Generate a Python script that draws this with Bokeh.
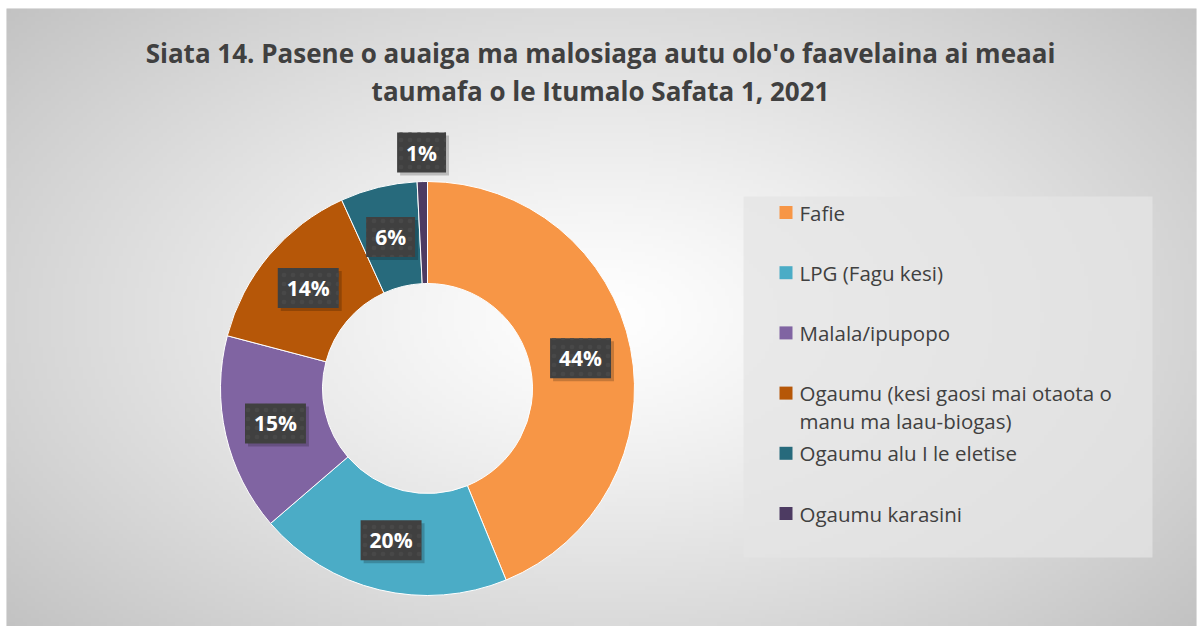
import numpy as np
from bokeh.plotting import figure
from bokeh.models import Range1d, ColumnDataSource
from bokeh.core.properties import value
from bokeh.embed import file_html
from bokeh.resources import INLINE

# ---------------- data ----------------
title_lines = ["Siata 14. Pasene o auaiga ma malosiaga autu olo'o faavelaina ai meaai",
               "taumafa o le Itumalo Safata 1, 2021"]
categories = ["Fafie", "LPG (Fagu kesi)", "Malala/ipupopo",
              "Ogaumu (kesi gaosi mai otaota o\nmanu ma laau-biogas)",
              "Ogaumu alu I le eletise", "Ogaumu karasini"]
percent = [43.8, 19.9, 15.4, 14.1, 6.0, 0.8]
colors = ["#F79646", "#4BACC6", "#8064A2", "#B65708", "#276A7C", "#4D3B62"]

# ---------------- layout ----------------
FW, FH = 1198, 626
BL, BT, BR = 6, 8, 2
W, H = FW - BL - BR, FH - BT
CX, CY = 421, 238
R_OUT, R_IN = 207, 105
FONT = "Open Sans"
TXT = "#404040"

p = figure(width=FW, height=FH, x_range=Range1d(0, W), y_range=Range1d(0, H),
           output_backend="svg", toolbar_location=None,
           min_border_left=BL, min_border_top=BT, min_border_right=BR, min_border_bottom=0,
           x_axis_location=None, y_axis_location=None)
p.grid.visible = False
p.outline_line_color = None
p.border_fill_color = "white"
p.background_fill_color = "#D0D0D0"

# background radial gradient
nx, ny = 298, 155
gx = (np.arange(nx) + 0.5) * W / nx
gy = (np.arange(ny) + 0.5) * H / ny
XX, YY = np.meshgrid(gx, gy)
gcx, gcy = 594, 310
d = np.sqrt(((XX - gcx) / (W * 0.55)) ** 2 + ((YY - gcy) / (H * 0.62)) ** 2)
g = np.clip(255 - 48 * d ** 1.2, 185, 255).astype(np.uint32)
img = (255 << 24) | (g << 16) | (g << 8) | g
p.image_rgba(image=[img.astype(np.uint32)], x=0, y=0, dw=W, dh=H)

# ---------------- donut ----------------
frac = np.array(percent) / sum(percent)
cum = np.concatenate([[0], np.cumsum(frac)])
start = np.pi / 2 - cum[:-1] * 2 * np.pi
end = np.pi / 2 - cum[1:] * 2 * np.pi
src = ColumnDataSource(dict(cat=categories, start=start, end=end, color=colors))
p.annular_wedge(x=CX, y=CY, inner_radius=R_IN, outer_radius=R_OUT,
                start_angle="start", end_angle="end", direction="clock",
                fill_color="color", line_color="white", line_width=1, source=src)

# data labels
mid = (cum[:-1] + cum[1:]) / 2 * 2 * np.pi
lab_r = np.where(frac < 0.02, R_OUT + 29, (R_OUT + R_IN) / 2)
lx = CX + lab_r * np.sin(mid)
ly = CY + lab_r * np.cos(mid)
labels = [f"{round(v)}%" for v in percent]
lsrc = ColumnDataSource(dict(x=lx, y=ly, t=labels))
# shadow
p.text(x="x", y="y", text="t", source=lsrc, x_offset=3, y_offset=3,
       text_font=value(FONT), text_font_style="bold", text_font_size="21px",
       text_align="center", text_baseline="middle", text_alpha=0,
       background_fill_color="#000000", background_fill_alpha=0.2,
       padding=(9, 6))
p.text(x="x", y="y", text="t", source=lsrc,
       text_font=value(FONT), text_font_style="bold", text_font_size="21px",
       text_align="center", text_baseline="middle", text_color="white",
       background_fill_color="#404040", background_hatch_pattern="dot",
       background_hatch_color="#484848", background_hatch_scale=9,
       padding=(9, 6))

# ---------------- title ----------------
p.text(x=[594, 594], y=[574, 536], text=title_lines,
       text_font=value(FONT), text_font_style="bold", text_font_size="26px",
       text_align="center", text_baseline="middle", text_color=TXT)

# ---------------- legend ----------------
LX0, LX1, LY0, LY1 = 737, 1146, 69, 430
p.quad(left=LX0, right=LX1, bottom=LY0, top=LY1, fill_color="#E4E4E4",
       fill_alpha=0.75, line_color=None)
slot = 60.2
ys = 414 - slot * np.arange(len(categories))
p.rect(x=785.5 - BL, y=ys, width=13, height=13, fill_color=colors, line_color=None)
lt_x, lt_y, lt_t = [], [], []
for cat, yy in zip(categories, ys):
    for k, line in enumerate(cat.split("\n")):
        lt_x.append(793)
        lt_y.append(yy - 28 * k)
        lt_t.append(line)
p.text(x=lt_x, y=lt_y, text=lt_t, text_font=value(FONT),
       text_font_size="20.5px", text_align="left", text_baseline="middle",
       text_color=TXT)

open("out.html", "w").write(file_html(p, INLINE))
